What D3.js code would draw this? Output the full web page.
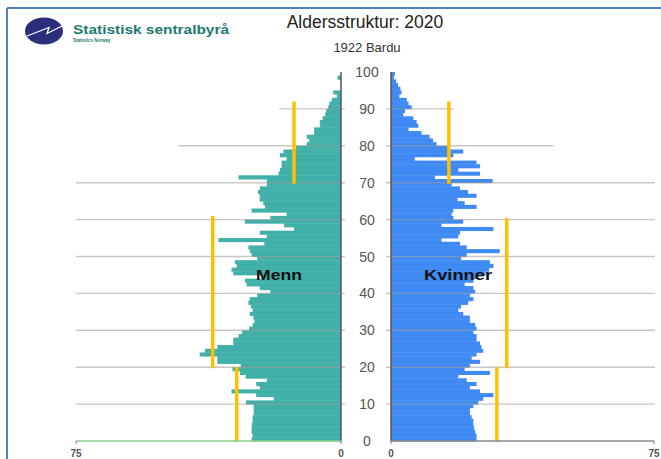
<!DOCTYPE html>
<html><head><meta charset="utf-8">
<script src="https://cdn.jsdelivr.net/npm/d3@7"></script>
<style>html,body{margin:0;padding:0;background:#fff;}svg{display:block;}</style>
</head><body>
<script>
// ---- data ----
const ages = d3.range(0, 100);
const men = [25.3,25,25.3,25.3,25.2,25,25,24.7,24.7,24.7,
  26.9,19,24,31,23,24,21,27,28.6,30.7,
  28.4,35,35,40,38.5,35,30.5,30.5,29,28,
  26,25,24.5,24.8,25.8,25,25.5,26.2,25.8,23.7,
  20,23,26.7,27.2,22.5,30.5,31,29.5,30,23.7,
  25.3,25.8,26.2,21.7,34.7,21,23,13.3,16.1,27.2,
  20,15.4,25.3,21.5,22,23,23,23.5,23,21,
  21,29,17.7,17.3,16.8,16.8,15.4,17.3,16.3,12.7,
  9.7,9,9.7,7.6,7.6,5.9,6,5.2,4.5,4.2,
  3.6,3.3,2.6,1.2,2.2,0,0,0,1,0];
const women = [24.4,24.4,24,23.7,23.5,23.5,23,22.5,22.5,23.5,
  24.9,26.3,29.2,25.4,22.5,24.4,21.6,19.2,28.2,21,
  22.5,25.4,23,24.4,26.3,25.8,25.4,24.4,24.4,23.5,
  24.4,24,22.5,22.5,20.6,19.2,20,22,23.5,22.5,
  24,23.5,21,23.5,24.4,27,28,29.2,28.2,20,
  21.6,31,21.6,19.7,14.4,19.2,19.7,29.2,14.4,20.6,
  17.8,17.3,17.8,24.4,21,19,24.4,22,19.7,17.3,
  29,12.5,25.4,19.2,25.4,24.4,6.8,17.8,20.6,16.8,
  13,12,11,8.7,5,7.8,7.3,6.4,3.5,4,
  5.9,5,4.5,2.4,3,2.7,2,1.5,0.8,1.1];
// group averages: [fromAge, toAge, value]
const menAvg = [[0,20,29.5],[20,61,36.3],[70,92,13.3]];
const womenAvg = [[0,20,30.2],[20,60.5,33],[70,92,16.5]];
const ageTicks = [0,10,20,30,40,50,60,70,80,90,100];
const gridAges = [10,20,30,40,50,60,70,80,90];
const gridReach = [75,75,75,75,75,75,75,46,17.5];
const xTicks = [0,75];
const title = "Aldersstruktur: 2020";
const subtitle = "1922 Bardu";

// ---- layout ----
const W = 661, H = 459;
const svg = d3.select("body").append("svg").attr("width", W).attr("height", H)
  .style("font-family", "'Liberation Sans', Arial, sans-serif");

const y = d3.scaleLinear().domain([0,100]).range([441,72]);
const xL = d3.scaleLinear().domain([0,75]).range([341,76]);
const xR = d3.scaleLinear().domain([0,75]).range([391,654]);

// frame
svg.append("line").attr("x1",7).attr("x2",W).attr("y1",8).attr("y2",8).attr("stroke","#4f7fc4").attr("stroke-width",2);
svg.append("line").attr("x1",7).attr("x2",7).attr("y1",8).attr("y2",H).attr("stroke","#4f7fc4").attr("stroke-width",2);

// logo
const logo = svg.append("g");
logo.append("ellipse").attr("cx",44).attr("cy",31).attr("rx",19).attr("ry",13.5).attr("fill","#2a2f7c");
logo.append("path").attr("d","M27,36 L49,27.5 L47,33.5 L62,26").attr("fill","none").attr("stroke","#fff").attr("stroke-width",1.3);
logo.append("text").attr("x",73).attr("y",34).attr("font-size",12.5).attr("font-weight","bold")
  .attr("fill","#1b7a6f").attr("textLength",156).attr("lengthAdjust","spacingAndGlyphs").text("Statistisk sentralbyrå");
logo.append("text").attr("x",73).attr("y",41.5).attr("font-size",4.5).attr("font-weight","bold")
  .attr("fill","#1b7a6f").text("Statistics Norway");

// titles
svg.append("text").attr("x",365).attr("y",28).attr("text-anchor","middle").attr("font-size",17.5).attr("fill","#222").text(title);
svg.append("text").attr("x",367).attr("y",52).attr("text-anchor","middle").attr("font-size",13).attr("fill","#333").text(subtitle);

// bars
const bh = y(0) - y(1);
svg.append("g").selectAll("rect").data(ages).join("rect")
  .attr("x", a => xL(men[a])).attr("width", a => xL(0) - xL(men[a]))
  .attr("y", a => y(a+1)).attr("height", bh + 0.4).attr("fill","#40b0a8");
svg.append("g").selectAll("rect").data(ages).join("rect")
  .attr("x", xR(0)).attr("width", a => xR(women[a]) - xR(0))
  .attr("y", a => y(a+1)).attr("height", bh + 0.4).attr("fill","#3f8af3");

// gridlines
const g = svg.append("g").attr("stroke","#999").attr("stroke-opacity",0.55).attr("stroke-width",1.4);
gridAges.forEach((a,i) => {
  g.append("line").attr("x1", xL(gridReach[i])).attr("x2", 345).attr("y1", y(a)).attr("y2", y(a));
  g.append("line").attr("x1", 386).attr("x2", xR(gridReach[i]) + 1).attr("y1", y(a)).attr("y2", y(a));
});

// average lines
svg.append("g").selectAll("line").data(menAvg).join("line")
  .attr("x1", d => xL(d[2])).attr("x2", d => xL(d[2]))
  .attr("y1", d => y(d[0]) + 1).attr("y2", d => y(d[1]))
  .attr("stroke","#ffc000").attr("stroke-width",3.5);
svg.append("g").selectAll("line").data(womenAvg).join("line")
  .attr("x1", d => xR(d[2])).attr("x2", d => xR(d[2]))
  .attr("y1", d => y(d[0]) + 1).attr("y2", d => y(d[1]))
  .attr("stroke","#ffc000").attr("stroke-width",3.5);

// vertical axes
svg.append("line").attr("x1",xL(0)).attr("x2",xL(0)).attr("y1",y(100)).attr("y2",y(0)).attr("stroke","#555").attr("stroke-width",1.5);
svg.append("line").attr("x1",xR(0)).attr("x2",xR(0)).attr("y1",y(100)).attr("y2",y(0)).attr("stroke","#555").attr("stroke-width",1.5);

// bottom axes
svg.append("line").attr("x1",xL(75)).attr("x2",xL(0)).attr("y1",y(0)).attr("y2",y(0)).attr("stroke","#8ccf86").attr("stroke-width",1.6);
svg.append("line").attr("x1",xR(0)).attr("x2",xR(75)).attr("y1",y(0)).attr("y2",y(0)).attr("stroke","#888").attr("stroke-width",1.6);
[xL, xR].forEach(sc => {
  xTicks.forEach(t => {
    svg.append("line").attr("x1",sc(t)).attr("x2",sc(t)).attr("y1",y(0)).attr("y2",y(0)+3).attr("stroke","#777").attr("stroke-width",1);
    svg.append("text").attr("x",sc(t)).attr("y",457).attr("text-anchor","middle").attr("font-size",10)
      .attr("font-weight","bold").attr("fill","#555").text(t);
  });
});

// age labels
svg.append("g").selectAll("text").data(ageTicks).join("text")
  .attr("x",367).attr("y", a => y(a) + 5).attr("text-anchor","middle").attr("font-size",14).attr("fill","#555").text(a => a);

// series labels
svg.append("text").attr("x",279).attr("y",280).attr("text-anchor","middle").attr("font-size",15).attr("font-weight","bold")
  .attr("fill","#111").attr("textLength",46).attr("lengthAdjust","spacingAndGlyphs").text("Menn");
svg.append("text").attr("x",458).attr("y",280).attr("text-anchor","middle").attr("font-size",15).attr("font-weight","bold")
  .attr("fill","#111").attr("textLength",68).attr("lengthAdjust","spacingAndGlyphs").text("Kvinner");
</script>
</body></html>
